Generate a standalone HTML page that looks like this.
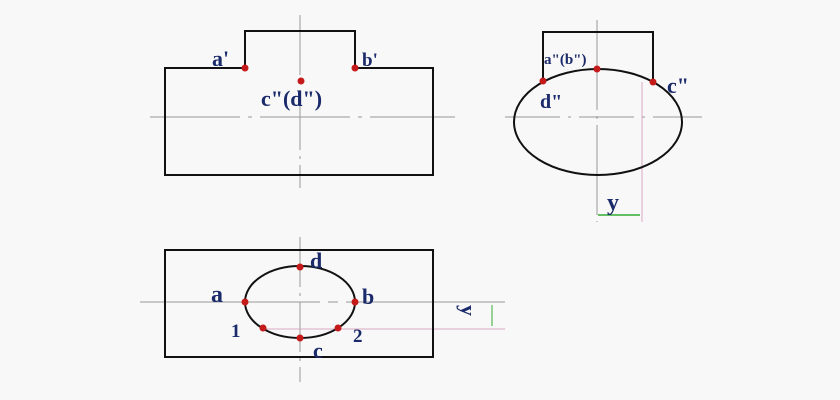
<!DOCTYPE html>
<html><head><style>body{margin:0;background:#f8f8f8}svg{display:block}</style></head><body>
<svg width="840" height="400" viewBox="0 0 840 400" xmlns="http://www.w3.org/2000/svg">
<rect width="840" height="400" fill="#f8f8f8"/>
<g fill="none" stroke="#999" stroke-width="1">
<line x1="300" y1="15" x2="300" y2="188" stroke-dasharray="60,6,3,6"/>
<line x1="150" y1="117" x2="455" y2="117" stroke-dasharray="90,8,4,8"/>
<line x1="597" y1="20" x2="597" y2="222" stroke-dasharray="90,6,3,6"/>
<line x1="505" y1="117" x2="702" y2="117" stroke-dasharray="55,8,3,8"/>
<line x1="300" y1="237" x2="300" y2="382" stroke-dasharray="50,6,3,6"/>
<line x1="140" y1="302" x2="505" y2="302" stroke-dasharray="180,8,10,8"/>
</g>
<g stroke="#d8a8c0" stroke-width="1">
<line x1="642" y1="82" x2="642" y2="222"/>
<line x1="262" y1="329" x2="505" y2="329"/>
</g>
<g fill="none" stroke="#111" stroke-width="2">
<polyline points="245,68 165,68 165,175 433,175 433,68 355,68"/>
<polyline points="245,68 245,31 355,31 355,68"/>
<ellipse cx="598" cy="122" rx="84" ry="53"/>
<polyline points="543,81 543,32 653,32 653,82"/>
<rect x="165" y="250" width="268" height="107"/>
<ellipse cx="300" cy="302" rx="55" ry="36"/>
</g>
<line x1="598" y1="215" x2="640" y2="215" stroke="#3a3" stroke-width="1.5"/>
<line x1="492" y1="305" x2="492" y2="326" stroke="#3a3" stroke-width="1"/>
<g fill="#c41a1a">
<circle cx="245" cy="68" r="3.5"/><circle cx="355" cy="68" r="3.5"/><circle cx="301" cy="81" r="3.5"/>
<circle cx="543" cy="81" r="3.5"/><circle cx="597" cy="69" r="3.5"/><circle cx="653" cy="82" r="3.5"/>
<circle cx="300" cy="267" r="3.5"/><circle cx="300" cy="338" r="3.5"/><circle cx="245" cy="302" r="3.5"/><circle cx="355" cy="302" r="3.5"/>
<circle cx="263" cy="328" r="3.5"/><circle cx="338" cy="328" r="3.5"/>
</g>
<g fill="#1a2a6a" font-family="Liberation Serif, serif" font-weight="bold">
<text x="212" y="66" font-size="22">a'</text>
<text x="362" y="66" font-size="19">b'</text>
<text x="261" y="106" font-size="22">c"(d")</text>
<text x="544" y="64" font-size="15">a"(b")</text>
<text x="540" y="108" font-size="20">d"</text>
<text x="667" y="93" font-size="22">c"</text>
<text x="607" y="210" font-size="24">y</text>
<text x="310" y="268" font-size="22">d</text>
<text x="211" y="302" font-size="24">a</text>
<text x="362" y="304" font-size="22">b</text>
<text x="231" y="337" font-size="19">1</text>
<text x="353" y="342" font-size="19">2</text>
<text x="313" y="358" font-size="22">c</text>
<text x="0" y="0" font-size="22" transform="translate(461,305) rotate(90)">y</text>
</g>
</svg>
</body></html>
